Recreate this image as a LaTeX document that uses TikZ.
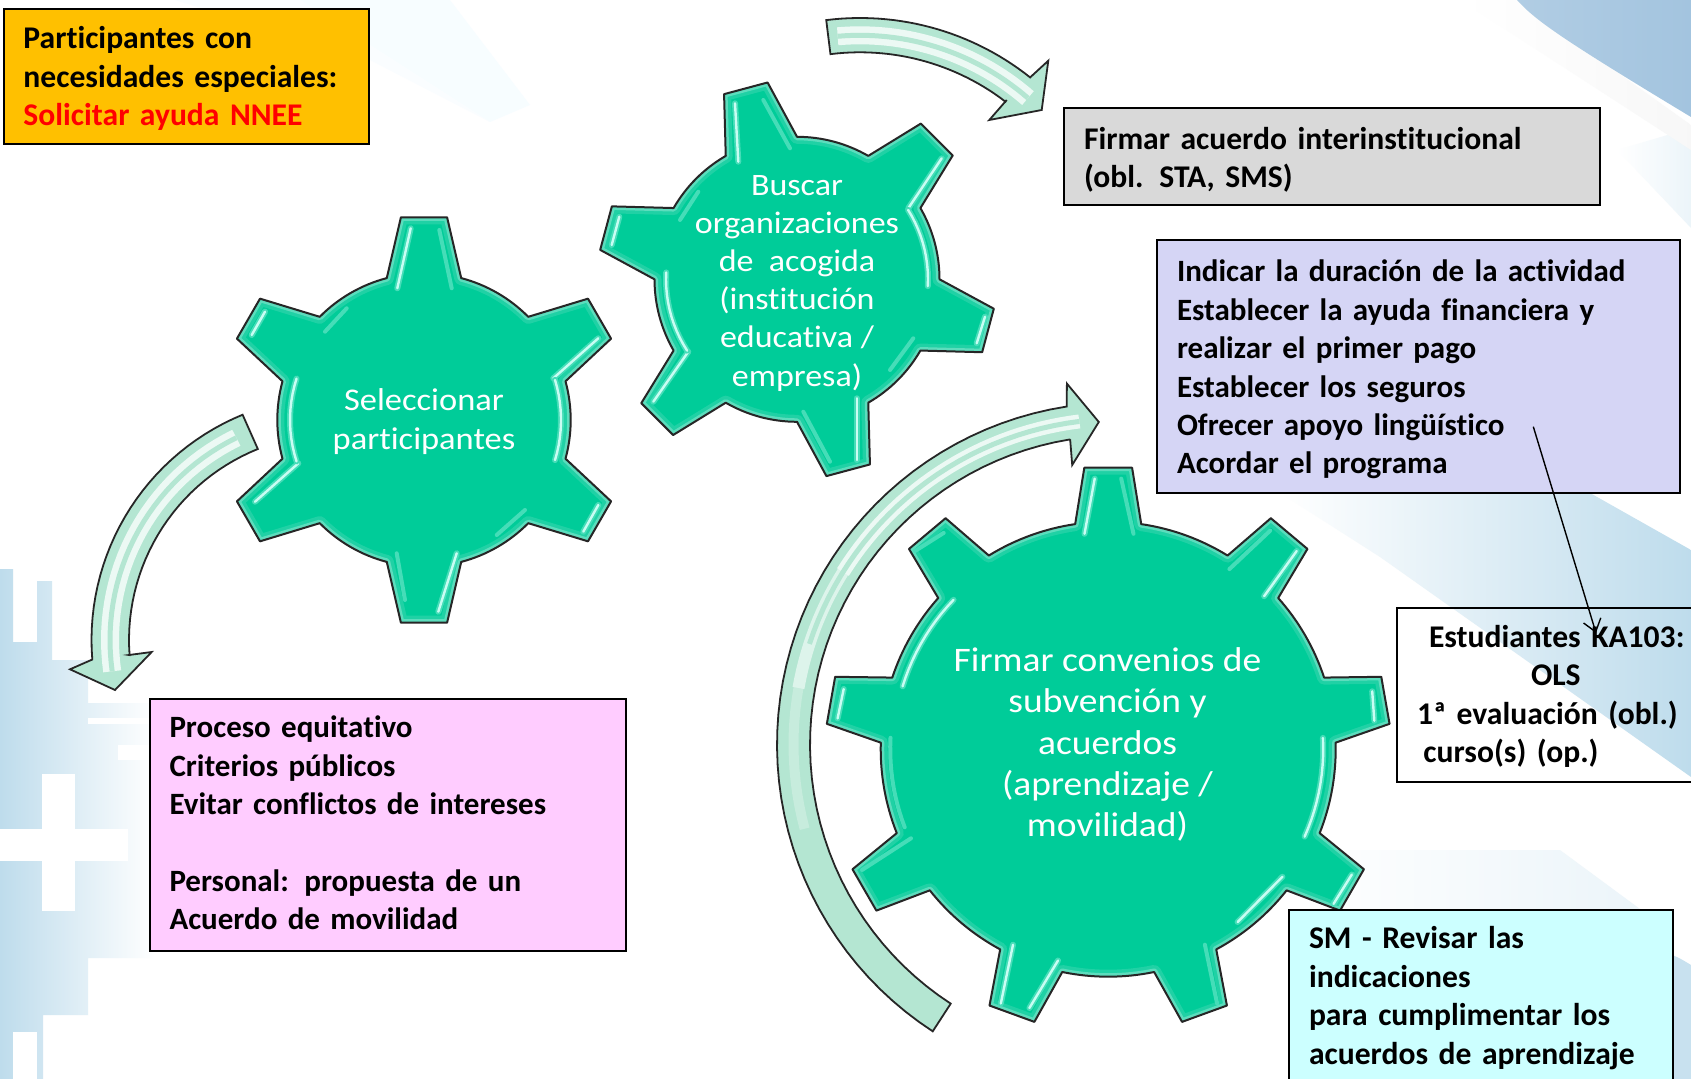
\documentclass[tikz,border=0pt]{standalone}
\usepackage{fontspec}
\setmainfont[WordSpace=0.75,Ligatures=NoCommon]{Carlito}
\newfontfamily\gearfont[FakeStretch=1.09,Ligatures=NoCommon]{Carlito}
\usetikzlibrary{arrows.meta}

\definecolor{gearfill}{HTML}{00CC99}
\definecolor{gearglow}{HTML}{5CDDBD}
\definecolor{shinecol}{HTML}{C8FDF3}
\definecolor{faintcol}{HTML}{45DDB8}
\definecolor{swooshcol}{HTML}{B4E6D2}
\definecolor{washblue}{HTML}{BEDCEC}
\definecolor{cornerblue}{HTML}{A3C4DF}

\tikzset{
  gearbody/.style={fill=gearfill},
  gearline/.style={draw=black!85, line width=1pt, line join=round},
  glowline/.style={draw=gearglow, line width=3.5pt, line join=round},
  shine/.style={preaction={draw=faintcol, line width=3pt, line cap=round}, draw=shinecol, line width=1.2pt, line cap=round},
  faint/.style={draw=faintcol, line width=2pt, line cap=round},
  swoosh/.style={fill=swooshcol, draw=black!85, line width=0.9pt, line join=miter},
  swooshwide/.style={draw=white!75!swooshcol, line width=9pt},
  swooshmid/.style={draw=swooshcol, line width=2.5pt},
  infobox/.style={draw=black, line width=1pt, anchor=north west, align=left, inner xsep=10pt, inner ysep=0pt,
                  font=\fontsize{#1}{19.2}\selectfont\bfseries},
  infobox/.default=15.8,
  gearlabel/.style={text=white, align=center, inner sep=0pt}
}

% first line taller or last line deeper, moves the text inside a box
\newcommand{\tallline}[1]{\rule{0pt}{#1}}
\newcommand{\deepline}[1]{\rule[-#1]{0pt}{1pt}}

% center, base radius, tip radius, teeth, first tooth angle, half angle at base, half angle at tip
\newcommand{\drawgear}[7]{
  \pgfmathsetmacro{\gearstep}{360/#4}
  \def\gearoutline{(#5-#6:#2) \foreach \i [evaluate=\i as \t using #5+\gearstep*(\i-1)] in {1,...,#4}{
      -- (\t-#7:#3) -- (\t+#7:#3) -- (\t+#6:#2)
      -- plot[domain={\t+#6}:{\t+\gearstep-#6}, samples=17] (\x:#2)
    } -- cycle}
  \begin{scope}[shift={(#1)}]
    \fill[gearbody] \gearoutline;
    \begin{scope}
      \clip \gearoutline;
      \draw[glowline, line width=7pt, draw opacity=0.35] \gearoutline;
      \draw[glowline] \gearoutline;
    \end{scope}
    \draw[gearline] \gearoutline;
  \end{scope}
}

\begin{document}
\begin{tikzpicture}[x=0.5pt,y=-0.5pt]

 \useasboundingbox (0,0) rectangle (1691,1079);
 \fill[white] (0,0) rectangle (1691,1079);

 % background, top
 \shade[left color=white, right color=washblue!30] (1617,150) -- (1691,128) -- (1691,228) -- cycle;
 \shade[left color=black!0, right color=black!3] (1460,0) -- (1516,0) -- (1691,125) -- (1691,150) -- cycle;
 \fill[cyan!3!white] (300,0) -- (450,0) -- (530,105) -- (490,122) -- cycle;
 \fill[cyan!2!white] (175,0) -- (300,0) -- (490,122) -- (370,60) -- cycle;
 \shade[left color=cornerblue!85, right color=cornerblue] (1517,0) .. controls (1535,20) and (1560,38) .. (1691,117) -- (1691,0) -- cycle;

 % background, right band
 \shade[left color=white, right color=washblue] (1280,493) -- (1590,493) -- (1691,550) -- (1691,777) -- (1380,557) -- cycle;
 \shade[left color=white, right color=washblue!30] (1345,850) -- (1560,850) -- (1640,909) -- (1300,909) -- cycle;
 \fill[washblue!85] (1672,955) .. controls (1680,958) and (1686,962) .. (1691,965) -- (1691,1079) -- (1672,1079) -- cycle;

 % background, left pattern
 \shade[left color=washblue, right color=white] (0,569) -- (13,569) -- (13,642) -- (37,642) -- (37,581) -- (52,581) -- (52,660) -- (88,660)
    -- (88,703) -- (155,703) -- (155,958) -- (88,958) -- (88,1015) -- (43,1015) -- (43,1079) -- (0,1079) -- cycle;
 \fill[white] (42,774) rectangle (75,911);
 \fill[white] (0,829) rectangle (128,861);
 \fill[white] (13,1032) rectangle (37,1079);
 \fill[white] (88,718) rectangle (155,724);
 \fill[white] (118,745) rectangle (155,760);

 % curved arrows
 \draw[swoosh] plot[domain=247.7:175.4, samples=30] ({335+243.5*cos(\x)},{640+243.5*sin(\x)})
    -- (70,669.3) -- (115,690) -- (151.7,652) -- (129,655)
    -- plot[domain=175.8:248, samples=30] ({335+206*cos(\x)},{640+206*sin(\x)}) -- cycle;
 \draw[swooshwide] plot[domain=244:172, samples=30] ({335+225*cos(\x)},{640+225*sin(\x)});
 \draw[swooshmid] plot[domain=244:172, samples=30] ({335+225*cos(\x)},{640+225*sin(\x)});

 \draw[swoosh] plot[domain=-97.1:-51.5, samples=30] ({860+273.3*cos(\x)},{291.3+273.3*sin(\x)})
    -- (1048.3,60.7) -- (1041.7,110) -- (989.3,120) -- (1006.7,100)
    -- plot[domain=-52.5:-97.1, samples=30] ({860+239*cos(\x)},{291.3+239*sin(\x)}) -- cycle;
 \draw[swooshwide] plot[domain=-95:-49, samples=30] ({860+256*cos(\x)},{291.3+256*sin(\x)});
 \draw[swooshmid] plot[domain=-95:-49, samples=30] ({860+256*cos(\x)},{291.3+256*sin(\x)});

 \draw[swoosh] plot[domain=123:261.2, samples=50] ({1119+342*cos(\x)},{744.5+342*sin(\x)})
    -- (1066.9,383.6) -- (1098.8,422) -- (1072.2,465) -- (1070.2,440)
    -- plot[domain=260.8:123, samples=50] ({1119+309*cos(\x)},{744.5+309*sin(\x)}) -- cycle;
 \draw[draw=swooshcol!75!white, line width=5pt] plot[domain=165:205, samples=20] ({1119+325.5*cos(\x)},{744.5+325.5*sin(\x)});
 \draw[draw=swooshcol!45!white, line width=6pt] plot[domain=190:220, samples=20] ({1119+325.5*cos(\x)},{744.5+325.5*sin(\x)});
 \draw[swooshwide, line width=7pt] plot[domain=212:263, samples=30] ({1119+325.5*cos(\x)},{744.5+325.5*sin(\x)});
 \draw[swooshmid] plot[domain=198:263, samples=30] ({1119+325.5*cos(\x)},{744.5+325.5*sin(\x)});

 % gears
 \drawgear{424,420}{146.7}{204}{6}{-90}{14.7}{6.5}
 \drawgear{797,279.3}{142.5}{199}{6}{-105}{15}{6.5}
 \drawgear{1108.2,749.2}{227.5}{282.5}{9}{-90}{8.35}{4.85}

 % gear shine
 \foreach \sx/\sy/\ex/\ey in {410.7/228.3/397.3/288.3, 265/311.7/251.7/335, 598.3/338.3/553.3/378.3, 298.3/463.3/255/501.7,
    598.3/505/583.3/531.7, 456.7/553.3/438.3/611.7,
    735/103.3/738.3/161.7, 941.7/158.3/908.3/208.3, 619.3/216.7/611.7/245, 985/316.7/976.7/343.3, 688.3/351.7/653.3/401.7, 856.7/398.3/856.7/460,
    1094.7/478.6/1084.5/533.8, 1296.7/551/1264.1/596.2, 1372.2/691.3/1374.3/720.7, 843.7/689/837.6/718.4, 1351.8/874.5/1333.5/903.9,
    1013/944.7/1000.8/1003.5, 1058/960.5/1029.4/1008, 1282.4/876.8/1237.6/922}
   \draw[shine] (\sx,\sy) -- (\ex,\ey);

 \foreach \sx/\sy/\ex/\ey in {439.3/230/451.7/288.3, 346.7/308.3/325/331.7, 525/510/496.7/535, 396.7/553.3/405/600,
    763.3/100/790/148.3, 698.3/191.7/680/220, 913.3/338.3/890/370, 803.3/411.7/830/461.7,
    1121.2/478.6/1133.5/533.8, 1270.2/530.6/1229.4/569.1, 915.1/551/943.7/532.9, 911/838.3/862/870, 1204.9/944.7/1217.1/1003.5}
   \draw[faint] (\sx,\sy) -- (\ex,\ey);

 \draw[shine, shift={(424,420)}] plot[domain=162:198, samples=12] (\x:134);
 \draw[shine, shift={(424,420)}] plot[domain=-17:17, samples=12] (\x:137);
 \draw[shine, shift={(797,279.3)}] plot[domain=-32:3, samples=12] (\x:131);
 \draw[shine, shift={(797,279.3)}] plot[domain=147:183, samples=12] (\x:131);
 \draw[shine, shift={(1108.2,749.2)}] plot[domain=197:224, samples=12] (\x:215);
 \draw[shine, shift={(1108.2,749.2)}] plot[domain=-3:24, samples=12] (\x:215);
 \draw[faint, shift={(1108.2,749.2)}] plot[domain=159:183, samples=12] (\x:218);

 % gear labels
 \node[gearlabel, font=\gearfont\fontsize{15.8}{19.4}\selectfont] (seleccionar) at (424,421.5) {Seleccionar\\participantes};
 \node[gearlabel, font=\gearfont\fontsize{15.6}{19.1}\selectfont] (buscar) at (797,283.2) {Buscar\\organizaciones\\de\ \ acogida\\(institución\\educativa /\\empresa)};
 \node[gearlabel, font=\gearfont\fontsize{17.2}{20.6}\selectfont] (firmar) at (1107.5,744.5) {Firmar convenios de\\subvención y\\acuerdos\\(aprendizaje /\\movilidad)};

 % boxes
 \node[infobox, fill={rgb,255:red,255;green,192;blue,0}, minimum width=182.75pt, minimum height=67.5pt, text width=162.75pt] (especiales) at (2.5,8.5)
   {\tallline{12.6pt}Participantes con\\necesidades especiales:\\\textcolor{red}{Solicitar ayuda NNEE}};
 \node[infobox, fill=black!15, minimum width=268pt, minimum height=48.5pt, text width=248pt] (acuerdo) at (1063,107.5)
   {\tallline{13.7pt}Firmar acuerdo interinstitucional\\(obl. STA, SMS)};
 \node[infobox=15.5, fill={rgb,255:red,213;green,213;blue,245}, minimum width=261.25pt, minimum height=126.25pt, text width=241.25pt] (duracion) at (1156,239.5)
   {\tallline{13.7pt}Indicar la duración de la actividad\\Establecer la ayuda financiera y\\realizar el primer pago\\Establecer los seguros\\Ofrecer apoyo lingüístico\\Acordar el programa};
 \node[infobox, minimum width=170pt, minimum height=87pt, text width=150pt] (ols) at (1396,606.7)
   {\tallline{12.6pt}\hspace*{6pt}Estudiantes KA103:\\\hspace*{57pt}OLS\\1ª evaluación (obl.)\\\hspace*{3.2pt}curso(s) (op.)};
 \node[infobox=15.5, fill={rgb,255:red,255;green,204;blue,255}, minimum width=238.25pt, minimum height=126pt, text width=218.25pt] (proceso) at (148.5,698)
   {Proceso equitativo\\Criterios públicos\\Evitar conflictos de intereses\\[19.2pt]Personal: propuesta de un\\Acuerdo de movilidad\deepline{2.2pt}};
 \node[infobox, fill={rgb,255:red,204;green,255;blue,255}, minimum width=191.75pt, minimum height=88pt, text width=171.75pt] (revisar) at (1288,909)
   {SM - Revisar las\\indicaciones\\para cumplimentar los\\acuerdos de aprendizaje};

 % arrow
 \coordinate (olsstart) at (1533.3,426.7);
 \coordinate (olsend) at (1596,633);
 \draw[line width=0.7pt, -{Straight Barb[length=6pt,width=9pt]}] (olsstart) -- (olsend);

\end{tikzpicture}
\end{document}
